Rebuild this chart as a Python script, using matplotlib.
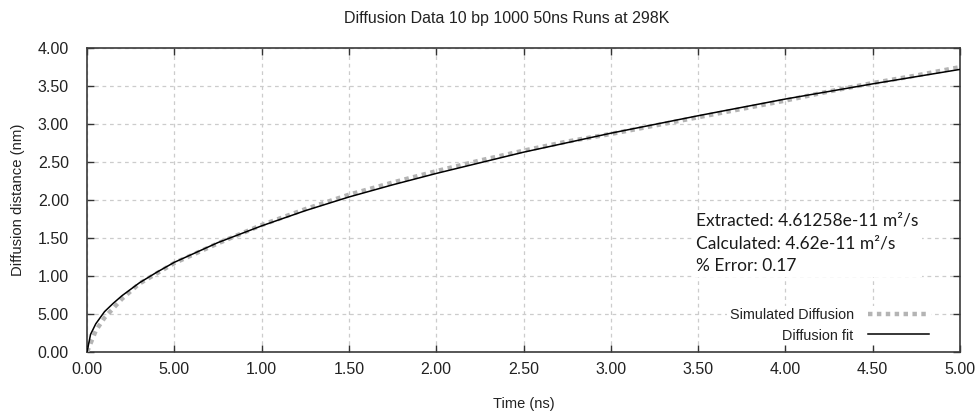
import matplotlib.pyplot as plt

# Diffusion distance vs time, simulated average and square-root fit

# Simulated diffusion (averaged over runs)
t_sim = [0.0, 0.05, 0.1, 0.2, 0.3, 0.5, 0.75, 1.0, 1.25, 1.5, 1.75, 2.0, 2.25,
         2.5, 2.75, 3.0, 3.25, 3.5, 3.75, 4.0, 4.25, 4.5, 4.75, 5.0]
d_sim = [0.0, 0.28, 0.45, 0.70, 0.90, 1.17, 1.43, 1.67, 1.88, 2.07, 2.23, 2.38, 2.52,
         2.65, 2.77, 2.87, 2.98, 3.09, 3.20, 3.31, 3.43, 3.54, 3.64, 3.75]

# Fitted curve
t_fit = [0.0, 0.02, 0.05, 0.1, 0.15, 0.2, 0.3, 0.4, 0.5, 0.75, 1.0, 1.25, 1.5,
         1.75, 2.0, 2.5, 3.0, 3.5, 4.0, 4.5, 5.0]
d_fit = [0.0, 0.23, 0.37, 0.53, 0.64, 0.74, 0.91, 1.05, 1.18, 1.44, 1.66, 1.86, 2.04,
         2.20, 2.35, 2.63, 2.88, 3.11, 3.33, 3.53, 3.72]

x_ticks = [0.0, 0.5, 1.0, 1.5, 2.0, 2.5, 3.0, 3.5, 4.0, 4.5, 5.0]
x_labels = ['0.00', '5.00', '1.00', '1.50', '2.00', '2.50', '3.00', '3.50', '4.00', '4.50', '5.00']
y_ticks = [0.0, 0.5, 1.0, 1.5, 2.0, 2.5, 3.0, 3.5, 4.0]
y_labels = ['0.00', '5.00', '1.00', '1.50', '2.00', '2.50', '3.00', '3.50', '4.00']

info_lines = ['Extracted: 4.61258e-11 m\u00b2/s',
              'Calculated: 4.62e-11 m\u00b2/s',
              '% Error: 0.17']

plt.rcParams['font.family'] = ['Liberation Sans', 'DejaVu Sans']
txt = '#222222'

fig = plt.figure(figsize=(9.78, 4.15), dpi=100)
ax = fig.add_axes([0.089, 0.152, 0.8926, 0.732])

ax.plot(t_sim, d_sim, color='#b4b4b4', linewidth=3.2, linestyle=(0, (1, 1)),
        dash_capstyle='butt', label='Simulated Diffusion', zorder=3)
ax.plot(t_fit, d_fit, color='black', linewidth=1.1, label='Diffusion fit', zorder=4)

ax.set_xlim(0, 5)
ax.set_ylim(0, 4)
ax.set_xticks(x_ticks)
ax.set_xticklabels(x_labels)
ax.set_yticks(y_ticks)
ax.set_yticklabels(y_labels)
ax.tick_params(direction='in', length=5, width=1, colors='#333333',
               top=True, right=True, labelcolor=txt, labelsize=11.5, pad=7)
ax.tick_params(axis='y', pad=13)

for s in ax.spines.values():
    s.set_color('#3a3a3a')
    s.set_linewidth(1.2)

ax.grid(True, color='#cccccc', linestyle=(0, (3, 3)), linewidth=0.9)
ax.set_axisbelow(True)

fig.text(0.518, 0.955, 'Diffusion Data 10 bp 1000 50ns Runs at 298K',
         fontsize=11.5, color=txt, ha='center', va='center')
ax.set_xlabel('Time (ns)', fontsize=10.5, color=txt, labelpad=15)
ax.set_ylabel('Diffusion distance (nm)', fontsize=10.7, color=txt, labelpad=9)

ax.text(3.49, 1.43, '\n'.join(info_lines), fontsize=12.5, color='#1a1a1a',
        family=['Lato', 'DejaVu Sans'], va='center', ha='left', linespacing=1.5,
        zorder=6, bbox=dict(facecolor='white', edgecolor='none', pad=2))

leg = ax.legend(loc='lower right', fontsize=10.4, frameon=True, framealpha=1,
                edgecolor='none', facecolor='white', markerfirst=False,
                handlelength=4.2, handletextpad=1.0, borderpad=0.15,
                labelspacing=0.45, bbox_to_anchor=(0.975, 0.0))
for t in leg.get_texts():
    t.set_color(txt)
    t.set_ha('right')
leg.set_zorder(6)

fig.savefig('out.png', dpi=100)
